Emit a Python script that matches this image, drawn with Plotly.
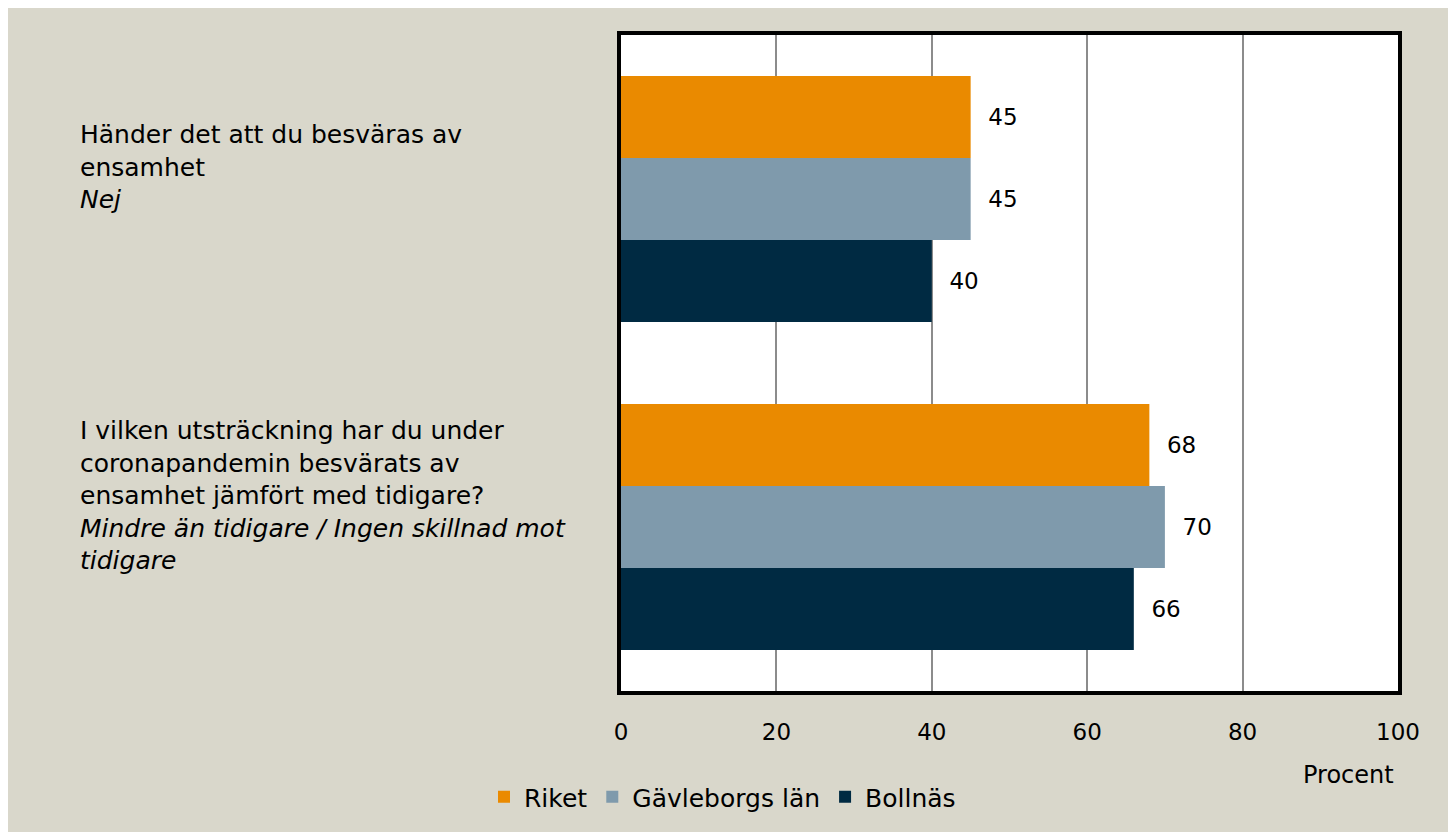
import plotly.graph_objects as go

categories = [
    "Händer det att du besväras av<br>ensamhet<br><i>Nej</i>",
    "I vilken utsträckning har du under<br>coronapandemin besvärats av<br>ensamhet jämfört med tidigare?<br><i>Mindre än tidigare / Ingen skillnad mot</i><br><i>tidigare</i>",
]
series_names = ["Riket", "Gävleborgs län", "Bollnäs"]
riket = [45, 68]
gavleborg = [45, 70]
bollnas = [40, 66]
colors = ["#EA8A00", "#7F9AAC", "#002A42"]
x_ticks = [0, 20, 40, 60, 80, 100]

W, H = 1456, 832
OFF = 8  # page body margin
L, R, T, B = 621 - OFF, 1398 - OFF, 35 - OFF, 691 - OFF
FONT = "DejaVu Sans"

fig = go.Figure()
for name, vals, col in zip(series_names, [riket, gavleborg, bollnas], colors):
    fig.add_trace(go.Bar(
        y=categories, x=vals, name=name, orientation="h",
        marker=dict(color=col, line=dict(width=0)),
        text=["\u00a0\u00a0" + str(v) for v in vals], textposition="outside",
        textfont=dict(family=FONT, size=23, color="#000"),
        cliponaxis=False,
    ))

def px_to_paper_x(px):
    return (px - OFF - L) / (R - L)

def px_to_paper_y(py):
    return (B - (py - OFF)) / (B - T)

annotations = []
for cat in categories:
    annotations.append(dict(
        x=px_to_paper_x(78), xref="paper", y=cat, yref="y",
        xanchor="left", yanchor="middle", align="left",
        text=cat, showarrow=False, yshift=32,
        font=dict(family=FONT, size=25, color="#000"),
    ))
annotations.append(dict(
    x=px_to_paper_x(1396), xref="paper", y=px_to_paper_y(775), yref="paper",
    xanchor="right", yanchor="middle", text="Procent", showarrow=False,
    font=dict(family=FONT, size=24, color="#000"),
))

fig.update_layout(
    width=W, height=H,
    margin=dict(l=L, r=W - R, t=T, b=H - B, pad=0),
    paper_bgcolor="#D9D7CB", plot_bgcolor="#FFFFFF",
    barmode="group", bargap=0.25, bargroupgap=0,
    font=dict(family=FONT, size=23, color="#000"),
    showlegend=True,
    legend=dict(
        orientation="h", x=px_to_paper_x(484), y=px_to_paper_y(797),
        xanchor="left", yanchor="middle", bgcolor="rgba(0,0,0,0)",
        font=dict(family=FONT, size=25, color="#000"), itemwidth=30,
        traceorder="normal",
    ),
    annotations=annotations,
)
fig.update_xaxes(
    range=[0, 100], tickvals=x_ticks, ticktext=[str(t) for t in x_ticks],
    showgrid=True, gridcolor="#8C8C8C", gridwidth=1.5,
    showline=True, linecolor="#000", linewidth=4, mirror=True,
    ticks="outside", ticklen=17, tickcolor="rgba(0,0,0,0)",
    tickfont=dict(family=FONT, size=23, color="#000"), zeroline=False,
)
fig.update_yaxes(
    autorange="reversed", showticklabels=False, showgrid=False,
    showline=True, linecolor="#000", linewidth=4, mirror=True, ticks="",
)

fig.write_html("out.html")
